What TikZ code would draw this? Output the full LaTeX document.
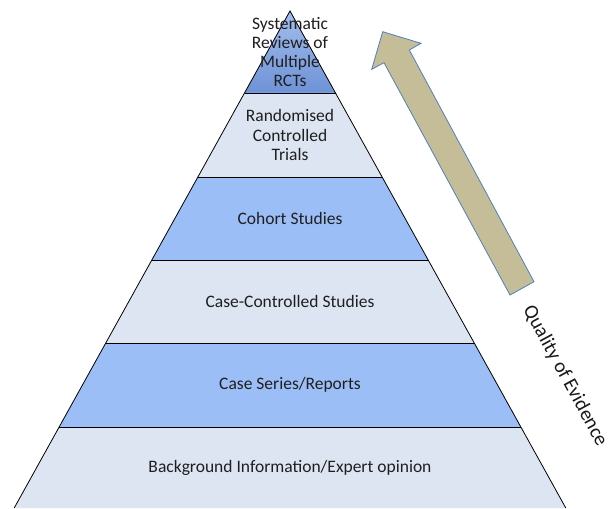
\documentclass[tikz,border=0pt]{standalone}
\usepackage{fontspec}
\setmainfont{Carlito}
\begin{document}
\begin{tikzpicture}[x=1pt,y=-1pt,
  darkband/.style={fill=bandDark},
  lightband/.style={fill=bandLight},
  sep/.style={draw=black,line width=0.8pt},
  lbl/.style={font=\fontsize{17.5}{19.3}\selectfont,text=black!88,align=center,inner sep=0pt},
  fatarrow/.style={fill=arrowTan,draw=arrowEdge,line width=0.8pt,line join=miter}]
\definecolor{bandDark}{HTML}{9CBEF7}
\definecolor{bandLight}{HTML}{DCE5F1}
\definecolor{apexTop}{HTML}{A3BEEE}
\definecolor{apexBot}{HTML}{6E92D6}
\definecolor{arrowTan}{HTML}{C4BD97}
\definecolor{arrowEdge}{HTML}{4F81BD}
\useasboundingbox[fill=white] (0,0) rectangle (609,508);
% pyramid corners
\coordinate (A) at (290,11);
\coordinate (L1) at (244.5,93);  \coordinate (R1) at (335.5,93);
\coordinate (L2) at (197.9,177); \coordinate (R2) at (382.1,177);
\coordinate (L3) at (151.8,260); \coordinate (R3) at (428.2,260);
\coordinate (L4) at (105.7,343); \coordinate (R4) at (474.3,343);
\coordinate (L5) at (59.1,427);  \coordinate (R5) at (520.9,427);
\coordinate (L6) at (14.2,508);  \coordinate (R6) at (565.8,508);
% bands
\fill[top color=apexTop,bottom color=apexBot] (A) -- (R1) -- (L1) -- cycle;
\fill[lightband] (L1) -- (R1) -- (R2) -- (L2) -- cycle;
\fill[darkband]  (L2) -- (R2) -- (R3) -- (L3) -- cycle;
\fill[lightband] (L3) -- (R3) -- (R4) -- (L4) -- cycle;
\fill[darkband]  (L4) -- (R4) -- (R5) -- (L5) -- cycle;
\fill[lightband] (L5) -- (R5) -- (R6) -- (L6) -- cycle;
% separators and outline
\draw[sep] (L1) -- (R1);
\draw[sep] (L2) -- (R2);
\draw[sep] (L3) -- (R3);
\draw[sep] (L4) -- (R4);
\draw[sep] (L5) -- (R5);
\draw[sep] (L6) -- (A) -- (R6);
% labels
\node[lbl] (t1) at (290,52) {Systematic\\Reviews of\\Multiple\\RCTs};
\node[lbl] (t2) at (290,135) {Randomised\\Controlled\\Trials};
\node[lbl] (t3) at (290,218.5) {Cohort Studies};
\node[lbl] (t4) at (290,301.5) {Case-Controlled Studies};
\node[lbl] (t5) at (290,385) {Case Series/Reports};
\node[lbl] (t6) at (290,467.5) {Background Information/Expert opinion};
% arrow
\draw[fatarrow] (382.7,31.7) -- (421,43.3) -- (409.3,50) -- (534,281.7)
  -- (510,295) -- (384,62.7) -- (371.7,69.3) -- cycle;
\node[font=\fontsize{20}{23}\selectfont,text=black!90,rotate=-61.5,inner sep=0pt] (q) at (565,376) {Quality of Evidence};
\end{tikzpicture}
\end{document}
